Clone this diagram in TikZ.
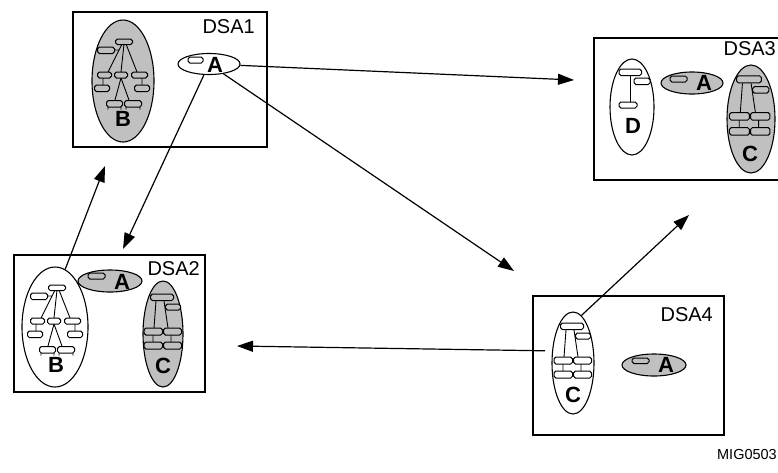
\documentclass[tikz,border=0pt]{standalone}
\usepackage{fontspec}
\setmainfont{Liberation Sans}
\usetikzlibrary{shapes.geometric,arrows.meta}
\definecolor{shade}{RGB}{192,192,192}
\tikzset{
  x=1pt, y=-1pt,
  frame/.style={draw, line width=1.7pt, inner sep=0pt},
  oval/.style={draw, ellipse, line width=1.1pt, inner sep=0pt},
  tb/.style={draw, line width=1pt, rounded corners=1.8pt},
  tl/.style={line width=0.9pt},
  lbl/.style={font=\fontsize{20}{20}\selectfont, inner sep=0pt},
  letter/.style={font=\bfseries\fontsize{22}{22}\selectfont, inner sep=0pt},
  link/.style={line width=1.2pt, -{Triangle[length=16pt,width=11pt]}},
  pics/treeB/.style={code={
    \draw[tl] (-1,-37) -- (-15,-9) (1,-37) -- (-2,-9) (3,-37) -- (14,-9)
      (-8.5,-31) -- (-4,-31) (-20,-3) -- (-20,4) (19,-3) -- (19,4)
      (-2,-3) -- (-8,19) (-2,-3) -- (6,19)
      (-15,26) -- (-15,28.5) (-2,26) -- (-2,28.5) (3,26) -- (3,28.5) (17,26) -- (17,28.5);
    \draw[tb,fill=#1] (-7.5,-42) rectangle (9.5,-36.5)
      (-25.5,-34) rectangle (-8.5,-27.5)
      (-25.5,-9) rectangle (-11.5,-3) (-8.5,-9) rectangle (4.5,-3) (8.5,-9) rectangle (24.5,-3)
      (-28.5,4) rectangle (-13.5,10.5) (11.5,4) rectangle (26.5,10.5)
      (-16.5,19.5) rectangle (-0.5,26) (1.5,19.5) rectangle (18.5,26);
    \node[letter] (-l) at (0,38) {B};
  }},
  pics/treeC/.style={code={
    \draw[tl] (-7,-33) -- (-9,-6) (1,-33) -- (5,-6) (-10,1) -- (-10,8) (8,1) -- (8,8);
    \draw[tb,fill=#1] (-12.5,-40) rectangle (10.5,-33.5) (2.5,-30) rectangle (17.5,-24)
      (-19,-6) rectangle (-0.5,1) (0.5,-6) rectangle (18.5,1)
      (-19,8) rectangle (-0.5,15) (0.5,8) rectangle (18.5,15);
    \node[letter] (-l) at (0,32) {C};
  }},
  pics/treeD/.style={code={
    \draw[tl] (-2,-31) -- (-2,-5);
    \draw[tb,fill=white] (-13,-38) rectangle (9.5,-31.5) (2,-29) rectangle (18,-22.5)
      (-13,-5) rectangle (5,1);
    \node[letter] (-l) at (1,19) {D};
  }},
}
\begin{document}
\begin{tikzpicture}
\useasboundingbox (0,0) rectangle (778,472);

% DSA1
\node[frame, minimum width=194pt, minimum height=135pt] (dsa1) at (170,79.5) {};
\node[lbl, anchor=base east] (l1) at (255,33) {DSA1};
\node[oval, fill=shade, minimum width=62pt, minimum height=122pt] (B1) at (123,81) {};
\pic (tB1) at (123,81) {treeB=shade};
\node[oval, fill=white, minimum width=62pt, minimum height=21pt] (A1) at (209,64) {};
\draw[tb, fill=white] (188,57) rectangle (203,63);
\node[letter] (A1l) at (215,65) {A};

% DSA2
\node[frame, minimum width=191pt, minimum height=137pt] (dsa2) at (109.5,323.5) {};
\node[lbl, anchor=base east] (l2) at (200,275) {DSA2};
\node[oval, fill=white, minimum width=66pt, minimum height=120pt] (B2) at (55,327) {};
\pic (tB2) at (56,327) {treeB=white};
\node[oval, fill=shade, minimum width=64pt, minimum height=22pt] (A2) at (110,281) {};
\draw[tb, fill=shade] (88,273) rectangle (105,279);
\node[letter] (A2l) at (122,281.5) {A};
\node[oval, fill=shade, minimum width=40pt, minimum height=106pt] (C2) at (163,334) {};
\pic (tC2) at (163,334) {treeC=shade};

% DSA3
\draw[line width=1.7pt] (778,38) -- (594,38) -- (594,180) -- (778,180);
\node[lbl, anchor=base east] (l3) at (776,55) {DSA3};
\node[oval, fill=white, minimum width=44pt, minimum height=96pt] (D3) at (632,107) {};
\pic (tD3) at (632,107) {treeD};
\node[oval, fill=shade, minimum width=62pt, minimum height=22pt] (A3) at (692,83) {};
\draw[tb, fill=shade] (670,76) rectangle (687,82);
\node[letter] (A3l) at (704,83) {A};
\node[oval, fill=shade, minimum width=48pt, minimum height=108pt] (C3) at (751,119) {};
\pic[scale=1.08] (tC3) at (750,119) {treeC=shade};

% DSA4
\node[frame, minimum width=191pt, minimum height=139pt] (dsa4) at (628.5,365.5) {};
\node[lbl, anchor=base east] (l4) at (713,321) {DSA4};
\node[oval, fill=white, minimum width=42pt, minimum height=102pt] (C4) at (573,363) {};
\pic (tC4) at (573,363) {treeC=white};
\node[oval, fill=shade, minimum width=64pt, minimum height=22pt] (A4) at (654,365) {};
\draw[tb, fill=shade] (632,358) rectangle (649,363.5);
\node[letter] (A4l) at (666,365) {A};

\node[font=\fontsize{14.5}{15}\selectfont, inner sep=0pt, anchor=base east] (mig) at (777,459) {MIG0503};

% arrow tips
\coordinate (t13) at (574,80);
\coordinate (t14) at (514,271);
\coordinate (t12) at (123,249);
\coordinate (t21) at (105,166);
\coordinate (t42) at (237,346);
\coordinate (t43) at (689,215);

\draw[link] (A1) -- (t13);
\draw[link] (A1) -- (t14);
\draw[link] (A1) -- (t12);
\draw[link] (B2.80) -- (t21);
\draw[link, shorten <=7pt] (C4.150) -- (t42);
\draw[link] (C4.80) -- (t43);
\end{tikzpicture}
\end{document}
